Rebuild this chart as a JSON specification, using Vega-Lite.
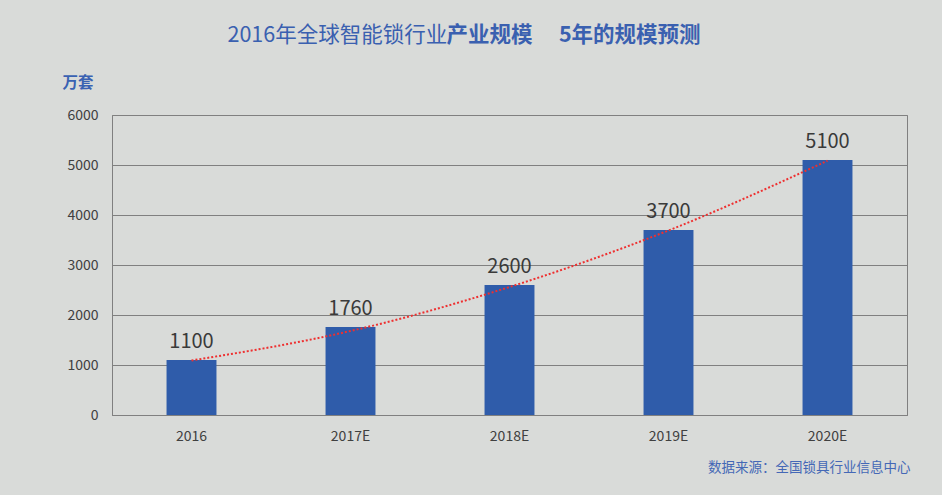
{
  "$schema": "https://vega.github.io/schema/vega-lite/v6.json",
  "width": 795,
  "height": 300,
  "autosize": {"type": "none"},
  "padding": {"left": 112, "top": 115, "right": 35, "bottom": 80},
  "background": "#d9dbd9",
  "data": {
    "values": [
      {"year": "2016", "value": 1100, "trend": 1090},
      {"year": "2017E", "value": 1760, "trend": 1680},
      {"year": "2018E", "value": 2600, "trend": 2560},
      {"year": "2019E", "value": 3700, "trend": 3690},
      {"year": "2020E", "value": 5100, "trend": 5085}
    ]
  },
  "encoding": {
    "x": {
      "field": "year",
      "type": "ordinal",
      "sort": null,
      "scale": {"paddingInner": 0.686, "paddingOuter": 0.343}
    }
  },
  "layer": [
    {
      "mark": {"type": "bar", "color": "#2f5caa"},
      "encoding": {
        "x": {
          "field": "year",
          "type": "ordinal",
          "sort": null,
          "axis": {
            "orient": "bottom",
            "labelAngle": 0,
            "labelFontSize": 14,
            "labelColor": "#404040",
            "labelPadding": 14,
            "ticks": false,
            "domainColor": "#808080",
            "title": "数据来源：全国锁具行业信息中心",
            "titleX": 798,
            "titleY": 52,
            "titleAlign": "right",
            "titleBaseline": "middle",
            "titleFontSize": 13.5,
            "titleFontWeight": "normal",
            "titleColor": "#4468b6"
          }
        },
        "y": {
          "field": "value",
          "type": "quantitative",
          "scale": {"domain": [0, 6000]},
          "axis": {
            "orient": "left",
            "values": [0, 1000, 2000, 3000, 4000, 5000, 6000],
            "format": "d",
            "labelFontSize": 14,
            "labelColor": "#404040",
            "labelPadding": 14,
            "ticks": false,
            "domainColor": "#808080",
            "gridColor": "#808080",
            "gridWidth": 1,
            "gridOpacity": 1,
            "title": "万套",
            "titleAngle": 0,
            "titleX": -50,
            "titleY": -33,
            "titleAlign": "left",
            "titleBaseline": "middle",
            "titleFontSize": 15.5,
            "titleFontWeight": "bold",
            "titleColor": "#3a62b2"
          }
        }
      }
    },
    {
      "mark": {
        "type": "line",
        "color": "#ee3030",
        "strokeWidth": 2,
        "strokeDash": [2, 2],
        "interpolate": "monotone"
      },
      "encoding": {
        "x": {"field": "year", "type": "ordinal", "sort": null, "axis": null},
        "y": {"field": "trend", "type": "quantitative", "axis": null}
      }
    },
    {
      "mark": {
        "type": "text",
        "fontSize": 20,
        "color": "#3a3a3a",
        "baseline": "alphabetic",
        "dy": -12
      },
      "encoding": {
        "x": {
          "field": "year",
          "type": "ordinal",
          "sort": null,
          "axis": {
            "orient": "top",
            "labels": false,
            "ticks": false,
            "domain": false,
            "grid": false,
            "title": "2016年全球智能锁行业",
            "titleX": 115,
            "titleY": -80,
            "titleAlign": "left",
            "titleBaseline": "middle",
            "titleFontSize": 21.5,
            "titleFontWeight": "normal",
            "titleColor": "#3a60b0"
          }
        },
        "y": {
          "field": "value",
          "type": "quantitative",
          "axis": {
            "orient": "right",
            "labels": false,
            "ticks": false,
            "domain": false,
            "grid": false,
            "title": "产业规模　 5年的规模预测",
            "titleAngle": 0,
            "titleX": -461,
            "titleY": -80,
            "titleAlign": "left",
            "titleBaseline": "middle",
            "titleFontSize": 21.5,
            "titleFontWeight": "bold",
            "titleColor": "#3a60b0"
          }
        },
        "text": {"field": "value", "type": "quantitative", "format": "d"}
      }
    }
  ],
  "resolve": {"axis": {"x": "independent", "y": "independent"}},
  "config": {
    "font": "Noto Sans CJK SC",
    "view": {"stroke": "#808080", "strokeWidth": 1}
  }
}
